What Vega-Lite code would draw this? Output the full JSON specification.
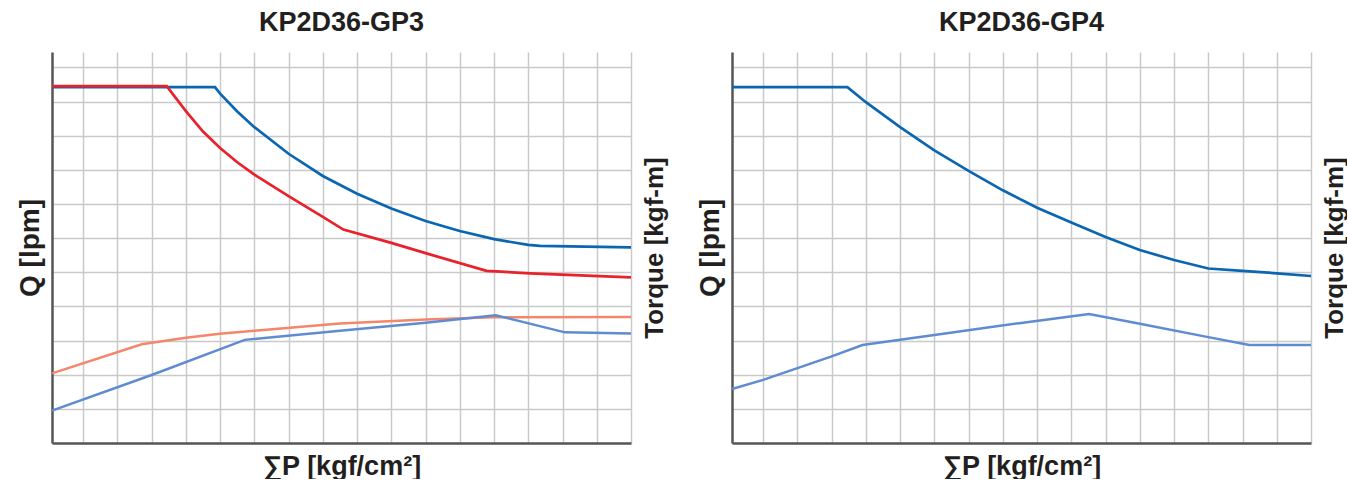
{
  "$schema": "https://vega.github.io/schema/vega-lite/v6.json",
  "background": "white",
  "padding": {"left": 16, "top": 9, "right": 0, "bottom": 0},
  "spacing": 29,
  "config": {
    "view": {"stroke": null},
    "font": "Liberation Sans",
    "title": {"fontSize": 27, "fontWeight": "bold", "color": "#231f20", "offset": 15},
    "axis": {
      "titleFontSize": 27, "titleFontWeight": "bold", "titleColor": "#231f20",
      "labels": false, "ticks": false,
      "gridColor": "#c9c9c9", "gridWidth": 1.5,
      "domainColor": "#555555", "domainWidth": 2.5
    }
  },
  "datasets": {
    "curves": [
      {"panel": "GP3", "series": "Q1", "p": 0.09, "v": 10.42},
      {"panel": "GP3", "series": "Q1", "p": 4.85, "v": 10.42},
      {"panel": "GP3", "series": "Q1", "p": 5.0, "v": 10.23},
      {"panel": "GP3", "series": "Q1", "p": 5.5, "v": 9.71},
      {"panel": "GP3", "series": "Q1", "p": 6.0, "v": 9.25},
      {"panel": "GP3", "series": "Q1", "p": 7.0, "v": 8.47},
      {"panel": "GP3", "series": "Q1", "p": 8.0, "v": 7.82},
      {"panel": "GP3", "series": "Q1", "p": 9.0, "v": 7.3},
      {"panel": "GP3", "series": "Q1", "p": 10.0, "v": 6.87},
      {"panel": "GP3", "series": "Q1", "p": 11.0, "v": 6.5},
      {"panel": "GP3", "series": "Q1", "p": 12.0, "v": 6.21},
      {"panel": "GP3", "series": "Q1", "p": 13.0, "v": 5.97},
      {"panel": "GP3", "series": "Q1", "p": 14.0, "v": 5.8},
      {"panel": "GP3", "series": "Q1", "p": 14.34, "v": 5.77},
      {"panel": "GP3", "series": "Q1", "p": 17.0, "v": 5.73},

      {"panel": "GP3", "series": "Q2", "p": 0.09, "v": 10.45},
      {"panel": "GP3", "series": "Q2", "p": 3.44, "v": 10.45},
      {"panel": "GP3", "series": "Q2", "p": 4.0, "v": 9.72},
      {"panel": "GP3", "series": "Q2", "p": 4.5, "v": 9.12},
      {"panel": "GP3", "series": "Q2", "p": 5.0, "v": 8.64},
      {"panel": "GP3", "series": "Q2", "p": 5.5, "v": 8.22},
      {"panel": "GP3", "series": "Q2", "p": 6.0, "v": 7.86},
      {"panel": "GP3", "series": "Q2", "p": 7.0, "v": 7.23},
      {"panel": "GP3", "series": "Q2", "p": 8.0, "v": 6.62},
      {"panel": "GP3", "series": "Q2", "p": 8.6, "v": 6.25},
      {"panel": "GP3", "series": "Q2", "p": 10.0, "v": 5.86},
      {"panel": "GP3", "series": "Q2", "p": 11.0, "v": 5.56},
      {"panel": "GP3", "series": "Q2", "p": 12.78, "v": 5.04},
      {"panel": "GP3", "series": "Q2", "p": 14.05, "v": 4.97},
      {"panel": "GP3", "series": "Q2", "p": 17.0, "v": 4.85},

      {"panel": "GP3", "series": "T1", "p": 0.09, "v": 2.04},
      {"panel": "GP3", "series": "T1", "p": 2.71, "v": 2.89},
      {"panel": "GP3", "series": "T1", "p": 4.0, "v": 3.08},
      {"panel": "GP3", "series": "T1", "p": 4.99, "v": 3.2},
      {"panel": "GP3", "series": "T1", "p": 6.0, "v": 3.29},
      {"panel": "GP3", "series": "T1", "p": 8.5, "v": 3.5},
      {"panel": "GP3", "series": "T1", "p": 11.0, "v": 3.62},
      {"panel": "GP3", "series": "T1", "p": 12.98, "v": 3.68},
      {"panel": "GP3", "series": "T1", "p": 17.0, "v": 3.69},

      {"panel": "GP3", "series": "T2", "p": 0.09, "v": 0.95},
      {"panel": "GP3", "series": "T2", "p": 3.0, "v": 1.99},
      {"panel": "GP3", "series": "T2", "p": 5.72, "v": 3.02},
      {"panel": "GP3", "series": "T2", "p": 8.5, "v": 3.29},
      {"panel": "GP3", "series": "T2", "p": 11.0, "v": 3.52},
      {"panel": "GP3", "series": "T2", "p": 13.05, "v": 3.74},
      {"panel": "GP3", "series": "T2", "p": 15.07, "v": 3.24},
      {"panel": "GP3", "series": "T2", "p": 17.0, "v": 3.21},

      {"panel": "GP4", "series": "Q1", "p": 0.09, "v": 10.42},
      {"panel": "GP4", "series": "Q1", "p": 3.46, "v": 10.42},
      {"panel": "GP4", "series": "Q1", "p": 4.0, "v": 9.98},
      {"panel": "GP4", "series": "Q1", "p": 5.0, "v": 9.25},
      {"panel": "GP4", "series": "Q1", "p": 6.0, "v": 8.57},
      {"panel": "GP4", "series": "Q1", "p": 7.0, "v": 7.97},
      {"panel": "GP4", "series": "Q1", "p": 8.0, "v": 7.4},
      {"panel": "GP4", "series": "Q1", "p": 9.0, "v": 6.89},
      {"panel": "GP4", "series": "Q1", "p": 10.0, "v": 6.46},
      {"panel": "GP4", "series": "Q1", "p": 11.0, "v": 6.03},
      {"panel": "GP4", "series": "Q1", "p": 12.0, "v": 5.65},
      {"panel": "GP4", "series": "Q1", "p": 13.0, "v": 5.36},
      {"panel": "GP4", "series": "Q1", "p": 14.0, "v": 5.11},
      {"panel": "GP4", "series": "Q1", "p": 15.0, "v": 5.04},
      {"panel": "GP4", "series": "Q1", "p": 16.0, "v": 4.97},
      {"panel": "GP4", "series": "Q1", "p": 17.0, "v": 4.89},

      {"panel": "GP4", "series": "T2", "p": 0.09, "v": 1.58},
      {"panel": "GP4", "series": "T2", "p": 1.0, "v": 1.85},
      {"panel": "GP4", "series": "T2", "p": 2.98, "v": 2.53},
      {"panel": "GP4", "series": "T2", "p": 3.9, "v": 2.87},
      {"panel": "GP4", "series": "T2", "p": 6.0, "v": 3.16},
      {"panel": "GP4", "series": "T2", "p": 8.48, "v": 3.51},
      {"panel": "GP4", "series": "T2", "p": 10.52, "v": 3.78},
      {"panel": "GP4", "series": "T2", "p": 12.0, "v": 3.49},
      {"panel": "GP4", "series": "T2", "p": 14.0, "v": 3.1},
      {"panel": "GP4", "series": "T2", "p": 15.2, "v": 2.87},
      {"panel": "GP4", "series": "T2", "p": 17.0, "v": 2.87}
    ]
  },
  "hconcat": [
    {
      "title": "KP2D36-GP3",
      "width": 579, "height": 391,
      "data": {"name": "curves"},
      "transform": [{"filter": "datum.panel == 'GP3'"}],
      "encoding": {
        "x": {"field": "p", "type": "quantitative",
              "scale": {"domain": [0.09, 17], "nice": false, "zero": false},
              "axis": {"title": "∑P [kgf/cm²]", "values": [1,2,3,4,5,6,7,8,9,10,11,12,13,14,15,16,17], "grid": true, "titlePadding": 10}}
      },
      "layer": [
        {
          "transform": [{"filter": "datum.series == 'Q1'"}],
          "mark": {"type": "line", "strokeWidth": 2.7, "color": "#0b66b2"},
          "encoding": {
            "y": {"field": "v", "type": "quantitative", "scale": {"domain": [0, 11.45], "nice": false},
                  "axis": {"title": "Q [lpm]", "titleFontSize": 28, "orient": "left", "values": [1,2,3,4,5,6,7,8,9,10,11], "grid": true, "titlePadding": 8}}
          }
        },
        {
          "transform": [{"filter": "datum.series == 'Q2'"}],
          "mark": {"type": "line", "strokeWidth": 2.7, "color": "#e8212b"},
          "encoding": {
            "y": {"field": "v", "type": "quantitative", "scale": {"domain": [0, 11.45], "nice": false}, "axis": null}
          }
        },
        {
          "transform": [{"filter": "datum.series == 'T1'"}],
          "mark": {"type": "line", "strokeWidth": 2.5, "color": "#f4866b"},
          "encoding": {
            "y": {"field": "v", "type": "quantitative", "scale": {"domain": [0, 11.45], "nice": false},
                  "axis": {"title": "Torque [kgf-m]", "titleFontSize": 26, "titleAngle": 270, "titleBaseline": "top", "orient": "right", "domain": false, "grid": false, "titlePadding": 10}}
          }
        },
        {
          "transform": [{"filter": "datum.series == 'T2'"}],
          "mark": {"type": "line", "strokeWidth": 2.5, "color": "#5f8bd0"},
          "encoding": {
            "y": {"field": "v", "type": "quantitative", "scale": {"domain": [0, 11.45], "nice": false}, "axis": null}
          }
        }
      ],
      "resolve": {"scale": {"y": "independent"}}
    },
    {
      "title": "KP2D36-GP4",
      "width": 579, "height": 391,
      "data": {"name": "curves"},
      "transform": [{"filter": "datum.panel == 'GP4'"}],
      "encoding": {
        "x": {"field": "p", "type": "quantitative",
              "scale": {"domain": [0.09, 17], "nice": false, "zero": false},
              "axis": {"title": "∑P [kgf/cm²]", "values": [1,2,3,4,5,6,7,8,9,10,11,12,13,14,15,16,17], "grid": true, "titlePadding": 10}}
      },
      "layer": [
        {
          "transform": [{"filter": "datum.series == 'Q1'"}],
          "mark": {"type": "line", "strokeWidth": 2.7, "color": "#0b66b2"},
          "encoding": {
            "y": {"field": "v", "type": "quantitative", "scale": {"domain": [0, 11.45], "nice": false},
                  "axis": {"title": "Q [lpm]", "titleFontSize": 28, "orient": "left", "values": [1,2,3,4,5,6,7,8,9,10,11], "grid": true, "titlePadding": 8}}
          }
        },
        {
          "transform": [{"filter": "datum.series == 'T2'"}],
          "mark": {"type": "line", "strokeWidth": 2.5, "color": "#5f8bd0"},
          "encoding": {
            "y": {"field": "v", "type": "quantitative", "scale": {"domain": [0, 11.45], "nice": false},
                  "axis": {"title": "Torque [kgf-m]", "titleFontSize": 26, "titleAngle": 270, "titleBaseline": "top", "orient": "right", "domain": false, "grid": false, "titlePadding": 10}}
          }
        }
      ],
      "resolve": {"scale": {"y": "independent"}}
    }
  ]
}
